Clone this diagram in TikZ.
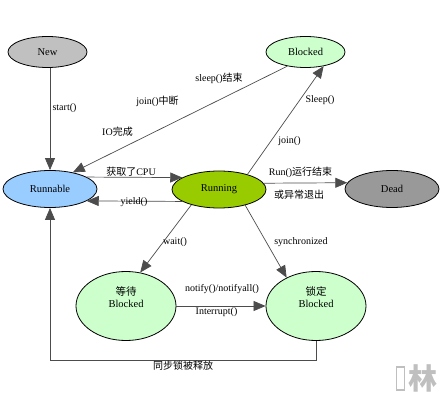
\documentclass[tikz,border=0pt]{standalone}
\usepackage{fontspec}
\setmainfont{Liberation Serif}
\newfontfamily\cjk{Noto Sans CJK SC}
\usetikzlibrary{shapes.geometric,arrows.meta}
\definecolor{cNew}{HTML}{C0C0C0}
\definecolor{cBlk}{HTML}{CCFFCC}
\definecolor{cRbl}{HTML}{99CCFF}
\definecolor{cRun}{HTML}{99CC00}
\definecolor{cDead}{HTML}{999999}
\tikzset{
    EL/.style ={ellipse, draw, inner sep=0pt, line width=0.8pt, font=\fontsize{10.5}{12}\selectfont},
    EL1/.style ={EL, minimum width=79pt, minimum height=31pt},
    EL2/.style ={EL, minimum width=94pt, minimum height=37pt},
    EL3/.style ={EL, minimum width=100pt, minimum height=69pt, fill=cBlk},
    NT/.style ={align=center, inner sep=0pt, font=\fontsize{10.5}{12}\selectfont},
    AR/.style ={draw=black!70, line width=0.7pt, -{Triangle[length=12pt,width=10pt]}},
    LB/.style ={inner sep=0pt, font=\fontsize{10}{12}\selectfont}}

\begin{document}
\begin{tikzpicture}[x=1pt,y=-1pt]
        \useasboundingbox (0,0) rectangle (444,403);
        \node (new) [EL1, fill=cNew] at (47.5,52) {New};
        \node (blk) [EL1, fill=cBlk] at (305.5,52) {Blocked};
        \node (rbl) [EL2, fill=cRbl] at (50,189) {Runnable};
        \node (run) [EL2, fill=cRun] at (219,189.5) {Running};
        \node (dead) [EL2, fill=cDead] at (392,189) {Dead};
        \node (wblk) [EL3] at (126,306) {};
        \node (sblk) [EL3] at (316,306) {};
        \node (wtxt) [NT] at ([yshift=9pt]wblk.center) {{\cjk 等待}\\Blocked};
        \node (stxt) [NT] at ([yshift=9pt]sblk.center) {{\cjk 锁定}\\Blocked};
        \draw[AR] (rbl.north |- new.south) -- (rbl.north);
        \draw[AR] (blk.218) -- (rbl.36);
        \draw[AR] (run.28) -- (blk.-38);
        \draw[AR] (rbl.18) -- (run.162);
        \draw[AR] (run.198) -- (rbl.-18);
        \draw[AR] (run.8) -- (dead.172);
        \draw[AR] (run.209) -- (wblk.67);
        \draw[AR] (run.-31) -- (sblk.136);
        \draw[AR] (wblk) -- (sblk);
        \draw[AR] (sblk.south) -- ++(0,19) -| (rbl.south);
        \node (l1) [LB] at (64.5,108) {start()};
        \node (l2) [LB] at (219,78) {sleep(){\cjk 结束}};
        \node (l3) [LB] at (157.5,101) {join(){\cjk 中断}};
        \node (l4) [LB] at (117.5,132) {IO{\cjk 完成}};
        \node (l5) [LB] at (320,100) {Sleep()};
        \node (l6) [LB] at (289.5,141) {join()};
        \node (l7) [LB] at (131,172) {{\cjk 获取了}CPU};
        \node (l8) [LB] at (134,202) {yield()};
        \node (l9) [LB] at (300.5,172) {Run(){\cjk 运行结束}};
        \node (l10) [LB] at (299,195) {{\cjk 或异常退出}};
        \node (l11) [LB] at (175,242) {wait()};
        \node (l12) [LB] at (301,242) {synchronized};
        \node (l13) [LB] at (222,289) {notify()/notifyall()};
        \node (l14) [LB] at (216.5,312) {Interrupt()};
        \node (l15) [LB] at (183,366) {{\cjk 同步锁被释放}};
        \draw[black!25, line width=1.8pt] (396.5,367) rectangle (404.5,390);
        \node (wm) [text=black!25, font=\cjk\bfseries\fontsize{29}{29}\selectfont] at (422.5,378.5) {林};
    \end{tikzpicture}
\end{document}
